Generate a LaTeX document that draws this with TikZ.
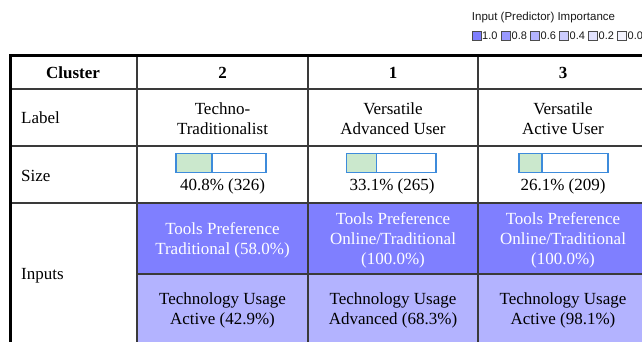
\documentclass[tikz,border=0pt]{standalone}
\usepackage{fontspec}
\setmainfont{Liberation Serif}
\newfontfamily\legendfont{Liberation Sans}
\definecolor{imp10}{HTML}{7F7FFF}
\definecolor{imp08}{HTML}{9999FF}
\definecolor{imp06}{HTML}{B3B3FF}
\definecolor{imp04}{HTML}{CCCCFF}
\definecolor{imp02}{HTML}{E3E3FF}
\definecolor{imp00}{HTML}{F4F4FF}
\definecolor{gridline}{HTML}{3A3A3A}
\definecolor{barblue}{HTML}{3D8BDB}
\definecolor{bargreen}{HTML}{CBE8CD}
\begin{document}
\begin{tikzpicture}[x=1pt,y=-1pt,
  cell/.style={inner sep=0pt,align=center,font=\fontsize{17}{20}\selectfont},
  headcell/.style={inner sep=0pt,align=center,font=\bfseries\fontsize{17}{20}\selectfont},
  rowhead/.style={inner sep=0pt,anchor=west,font=\fontsize{17}{20}\selectfont},
  grid/.style={draw=gridline,line width=1.2pt},
  frame/.style={draw=black,line width=3pt},
  sizebar/.style={draw=barblue,line width=1.3pt},
  swatch/.style={draw=black!70,line width=0.8pt},
  legtext/.style={inner sep=0pt,anchor=west,font=\legendfont\fontsize{11}{12}\selectfont,text=black!90}]
\useasboundingbox (0,0) rectangle (642,342);
\fill[white] (0,0) rectangle (642,342);

% importance legend
\node[inner sep=0pt,font=\legendfont\fontsize{11.5}{13}\selectfont,text=black!90] (legtitle) at (543.5,18) {Input (Predictor) Importance};
\foreach \x/\c/\v [count=\i] in {472/imp10/1.0,501.5/imp08/0.8,530.5/imp06/0.6,559.5/imp04/0.4,588.5/imp02/0.2,617.5/imp00/0.0}{
  \filldraw[swatch,fill=\c] (\x,31.5) rectangle ++(9,9);
  \node[legtext] (leg\i) at (\x+10,36) {\v};
}

% input cells
\fill[imp10] (137,203) rectangle (642,274);
\fill[imp06] (137,274) rectangle (642,342);

% grid
\draw[grid] (10,89) -- (642,89);
\draw[grid] (10,146) -- (642,146);
\draw[grid] (10,203) -- (642,203);
\draw[grid] (137,274) -- (642,274);
\draw[grid] (137,56) -- (137,342);
\draw[grid] (308,56) -- (308,342);
\draw[grid] (478,56) -- (478,342);

% outer frame
\draw[frame] (10.5,342) -- (10.5,56) -- (642,56);

% header row
\node[headcell] (hclus) at (73,73) {Cluster};
\node[headcell] (hc2) at (222.5,73) {2};
\node[headcell] (hc1) at (393,73) {1};
\node[headcell] (hc3) at (563,73) {3};

% label row
\node[rowhead] (rlabel) at (21,117.5) {Label};
\node[cell] (lab2) at (222.5,119) {Techno-\\Traditionalist};
\node[cell] (lab1) at (393,119) {Versatile\\Advanced User};
\node[cell] (lab3) at (563,119) {Versatile\\Active User};

% size row
\node[rowhead] (rsize) at (21,175.5) {Size};
\foreach \name/\xa/\xm/\xb/\cx/\txt in {2/176/212/266/222.5/{40.8\% (326)},1/346.5/376.5/436/392/{33.1\% (265)},3/519/542/608/563/{26.1\% (209)}}{
  \fill[bargreen] (\xa,153.5) rectangle (\xm,172.5);
  \draw[sizebar] (\xa,153.5) rectangle (\xb,172.5);
  \draw[sizebar] (\xm,153.5) -- (\xm,172.5);
  \node[cell] (size\name) at (\cx,186.5) {\txt};
}

% inputs row
\node[rowhead] (rinputs) at (21,275.5) {Inputs};
\node[cell,text=white] (tp2) at (222.5,240) {Tools Preference\\Traditional (58.0\%)};
\node[cell,text=white] (tp1) at (393,240) {Tools Preference\\Online/Traditional\\(100.0\%)};
\node[cell,text=white] (tp3) at (563,240) {Tools Preference\\Online/Traditional\\(100.0\%)};
\node[cell] (tu2) at (222.5,310) {Technology Usage\\Active (42.9\%)};
\node[cell] (tu1) at (393,310) {Technology Usage\\Advanced (68.3\%)};
\node[cell] (tu3) at (563,310) {Technology Usage\\Active (98.1\%)};
\end{tikzpicture}
\end{document}
